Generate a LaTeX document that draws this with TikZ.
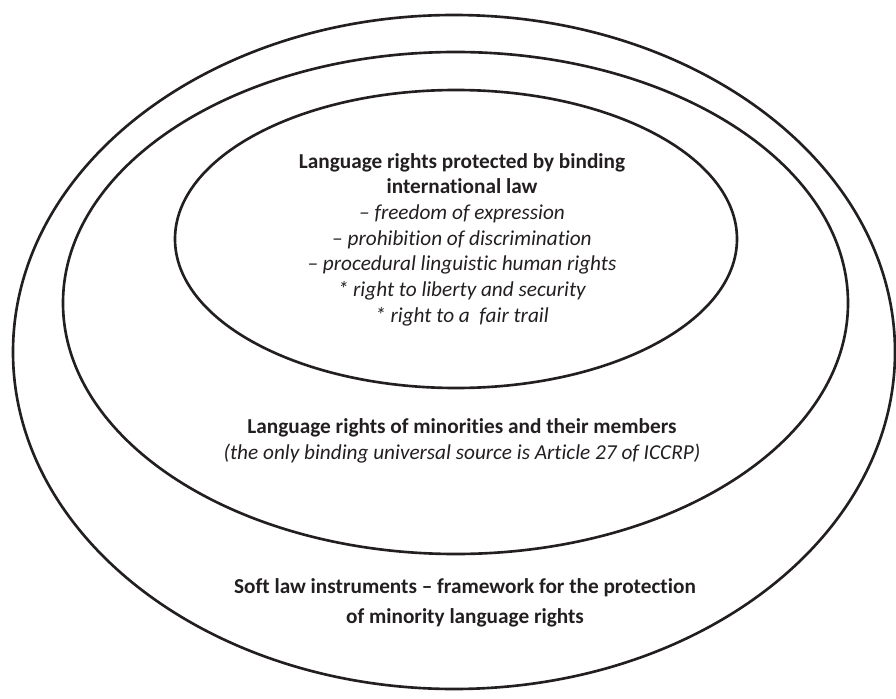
\documentclass[tikz,border=0pt]{standalone}
\usepackage{fontspec}
\setmainfont{Carlito}[Ligatures=NoCommon]
\usepackage{tikz}

\definecolor{ink}{HTML}{231F20}

\begin{document}
\begin{tikzpicture}[line width=1.5pt, ink]
			\useasboundingbox (0, 0) rectangle (17.92, 13.96);
			
			\draw (9.08, 6.92) ellipse [x radius=8.82, y radius=6.74];
			\draw (9.11, 7.90) ellipse [x radius=7.85, y radius=5.02];
			\draw (9.12, 9.18) ellipse [x radius=5.62, y radius=2.98];
			
			\node[align=center, font=\fontsize{12.1}{14.6}\selectfont] (core) at (9.24, 9.17)
			{\textbf{Language rights protected by binding} \\
				\textbf{international law} \\
				\textit{-- freedom of expression} \\
				\textit{-- prohibition of discrimination} \\
				\textit{-- procedural linguistic human rights} \\
				\textit{* right to liberty and security} \\
				\textit{* right to a\ \ fair trail}};
			
			\node[align=center, font=\fontsize{12.1}{14.8}\selectfont] (minority) at (9.24, 5.14)
			{\textbf{Language rights of minorities and their members} \\
				\textit{(the only binding universal source is Article 27 of ICCRP)}};
			
			\node[align=center, font=\fontsize{12.1}{17}\selectfont] (softlaw) at (9.30, 1.90)
			{\textbf{Soft law instruments -- framework for the protection} \\
				\textbf{of minority language rights}};
\end{tikzpicture}
\end{document}
